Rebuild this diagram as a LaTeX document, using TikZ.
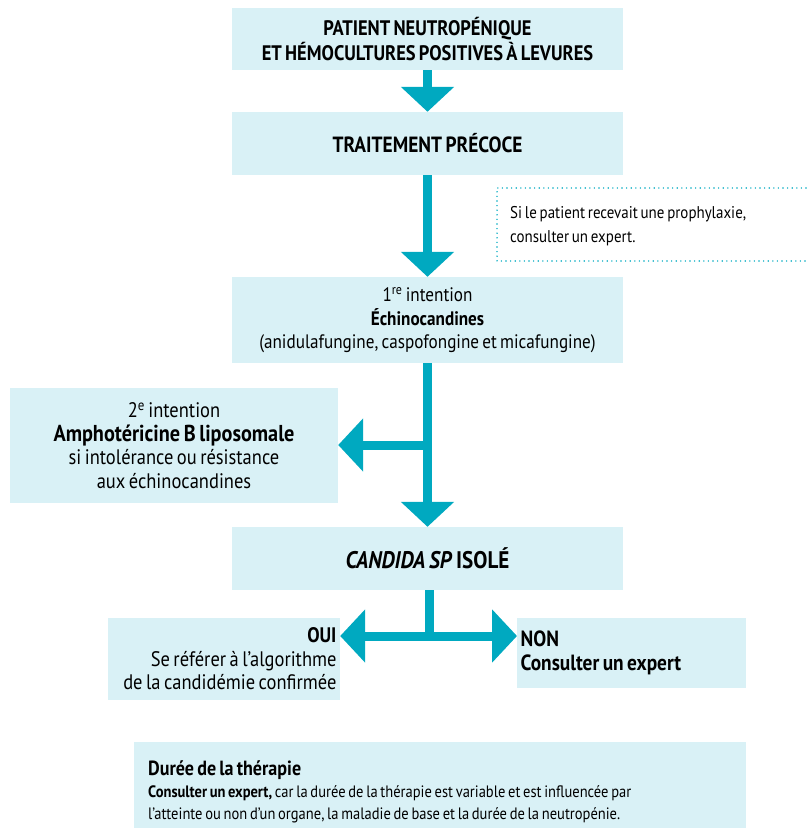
\documentclass[tikz,border=0pt]{standalone}
\usepackage{fontspec}
\setmainfont{PT Sans}[FakeStretch=0.88,WordSpace=0.7]
\usetikzlibrary{arrows.meta}
\definecolor{boxfill}{RGB}{217,241,246}
\definecolor{flowteal}{RGB}{0,169,192}
\begin{document}
\begin{tikzpicture}[x=1pt,y=-1pt,
  box/.style={fill=boxfill, draw=none, inner sep=0pt, align=center,
    font=\fontsize{19.5}{23.5}\selectfont},
  headbox/.style={box, font=\fontsize{21}{25}\selectfont\bfseries},
  flow/.style={draw=flowteal, line width=9pt, -{Triangle[width=52pt,length=25pt]}},
  stem/.style={draw=flowteal, line width=9pt},
  note/.style={draw=flowteal, line width=1.6pt, line cap=round,
    dash pattern=on 0pt off 4.6pt}]
\useasboundingbox (0,0) rectangle (806,832);

% main column of steps
\node[headbox, minimum width=391pt, minimum height=62pt] (start) at (427.5,39)
  {PATIENT NEUTROPÉNIQUE\\ET HÉMOCULTURES POSITIVES À LEVURES};
\node[headbox, minimum width=391pt, minimum height=63pt,
  font=\fontsize{22}{25}\selectfont\bfseries] (early) at (427.5,143.5)
  {TRAITEMENT PRÉCOCE};
\node[box, minimum width=391pt, minimum height=86pt] (first) at (427.5,320)
  {1\textsuperscript{re} intention\\\textbf{Échinocandines}\\(anidulafungine, caspofongine et micafungine)};
\node[box, minimum width=328pt, minimum height=115pt,
  font=\fontsize{21}{23.5}\selectfont] (second) at (174,445.5)
  {2\textsuperscript{e} intention\\{\fontsize{23}{23.5}\selectfont\bfseries Amphotéricine B liposomale}\\si intolérance ou résistance\\aux échinocandines};
\node[headbox, minimum width=391pt, minimum height=63pt,
  font=\fontsize{24}{25}\selectfont\bfseries] (candida) at (427.5,558.5)
  {\textit{CANDIDA SP} ISOLÉ};

% outcome boxes
\node[box, minimum width=232pt, minimum height=82pt, text width=225pt, align=flush right,
  font=\fontsize{21}{23.5}\selectfont] (oui) at (224,659)
  {\textbf{OUI}\\Se référer à l’algorithme\\de la candidémie confirmée};
\node[box, minimum width=229pt, minimum height=70pt, text width=222pt, align=flush left,
  anchor=west, font=\fontsize{22}{24}\selectfont\bfseries] (non) at (517,653)
  {NON\\Consulter un expert};

% duration box and its text
\node[box, minimum width=612pt, minimum height=86pt, anchor=north west] (duree) at (134,742) {};
\node[inner sep=0pt, text width=590pt, align=flush left, anchor=west,
  font=\fontsize{16.5}{22}\selectfont] (dureetext)
  at ([xshift=14pt,yshift=-7pt]duree.west)
  {{\fontsize{20.5}{22}\selectfont\bfseries Durée de la thérapie}\\
   \textbf{Consulter un expert,} car la durée de la thérapie est variable et est influencée par\\
   l’atteinte ou non d’un organe, la maladie de base et la durée de la neutropénie.};

% dotted remark
\node[inner sep=0pt, anchor=west, align=flush left, font=\fontsize{17}{24.5}\selectfont] (remark) at (510,226)
  {Si le patient recevait une prophylaxie,\\consulter un expert.};
\draw[note] (806,188) -- (497,188) -- (497,261) -- (806,261);

% connectors
\draw[flow] (start.south) -- (early.north);
\draw[flow] (early.south) -- (first.north);
\draw[flow] (first.south) -- (candida.north);
\coordinate (split) at (427.5,445);
\draw[flow] (split) -- (second.east |- split);
\coordinate (fork) at (429,636);
\draw[stem] (candida.south -| fork) -- (fork);
\draw[flow] ([xshift=4.5pt]fork) -- (oui.east |- fork);
\draw[flow] ([xshift=-4.5pt]fork) -- (non.west |- fork);
\end{tikzpicture}
\end{document}
